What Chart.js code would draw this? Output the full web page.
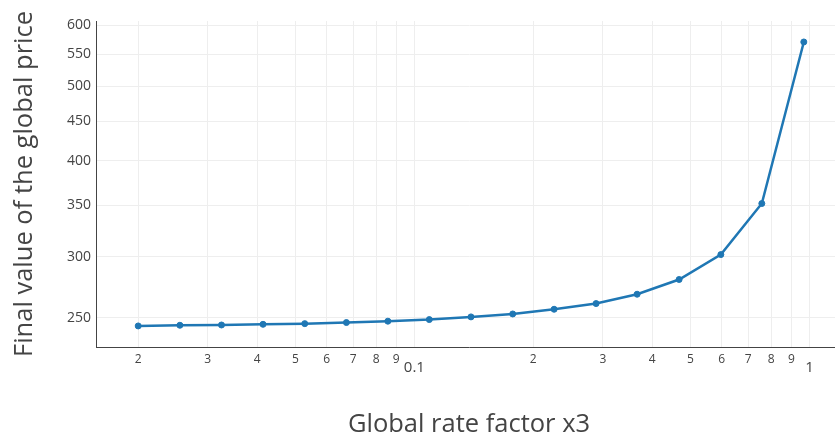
<!DOCTYPE html>
<html>
<head>
<meta charset="utf-8">
<style>
  body { margin: 0; background: #fff; overflow: hidden; }
  #wrap { width: 835px; height: 443px; overflow: hidden; }
</style>
</head>
<body>
<div id="wrap"><canvas id="priceChart" width="846" height="443"></canvas></div>

<script src="https://cdn.jsdelivr.net/npm/chart.js@4.4.1/dist/chart.umd.min.js"></script>
<script>
    // values (log-log)
    const rateFactor = [0.0200, 0.0255, 0.0325, 0.0414, 0.0528, 0.0673, 0.0857, 0.1091, 0.1391,
                        0.1774, 0.2258, 0.2884, 0.3663, 0.4679, 0.5967, 0.7577, 0.9678];
    const finalPrice = [243.8, 244.3, 244.5, 245.0, 245.5, 246.3, 247.3, 248.5, 250.5,
                        252.7, 256.3, 260.7, 268.1, 280.2, 301.9, 351.8, 570.8];

    const xTicks = [0.02, 0.03, 0.04, 0.05, 0.06, 0.07, 0.08, 0.09, 0.1,
                    0.2, 0.3, 0.4, 0.5, 0.6, 0.7, 0.8, 0.9, 1];
    const yTicks = [250, 300, 350, 400, 450, 500, 550, 600];

    const textColor = '#444';
    const gridColor = '#eeeeee';
    const lineColor = '#1f77b4';

    function isDecade(v) {
        return v === 0.1 || v === 1;
    }

    new Chart(document.getElementById('priceChart'), {
        type: 'scatter',
        data: {
            datasets: [{
                label: 'Final value',
                data: rateFactor.map((x, i) => ({x: x, y: finalPrice[i]})),
                showLine: true,
                borderColor: lineColor,
                backgroundColor: lineColor,
                borderWidth: 2.5,
                pointRadius: 3,
                pointBorderWidth: 1,
                pointHoverRadius: 3,
                tension: 0
            }]
        },
        options: {
            responsive: false,
            animation: false,
            layout: {padding: {top: 21, right: 0, left: 0, bottom: 0}},
            plugins: {
                legend: {display: false},
                tooltip: {enabled: false}
            },
            scales: {
                x: {
                    type: 'logarithmic',
                    min: 0.01564,
                    max: 1.209,
                    afterBuildTicks: function(scale) {
                        scale.ticks = xTicks.map(v => ({value: v, major: isDecade(v)}));
                    },
                    afterFit: function(scale) {
                        scale.height = 96;
                        scale.paddingLeft = 0;
                        scale.paddingRight = 0;
                    },
                    ticks: {
                        autoSkip: false,
                        maxRotation: 0,
                        padding: 5,
                        color: textColor,
                        font: function(ctx) {
                            const big = ctx.tick && isDecade(ctx.tick.value);
                            return {family: 'Open Sans', size: big ? 15 : 12, lineHeight: big ? 0.72 : 1.2};
                        },
                        callback: function(value) {
                            if (isDecade(value)) return ['', String(value)];
                            return String(Math.round(value / Math.pow(10, Math.floor(Math.log10(value) + 1e-9))));
                        }
                    },
                    grid: {color: gridColor, lineWidth: 1, drawTicks: false},
                    border: {display: true, color: textColor, width: 1},
                    title: {
                        display: true,
                        text: 'Global rate factor x3',
                        color: textColor,
                        font: {family: 'Open Sans', size: 25.5},
                        padding: {top: 0, bottom: 3}
                    }
                },
                y: {
                    type: 'logarithmic',
                    min: 228.9,
                    max: 607.8,
                    afterBuildTicks: function(scale) {
                        scale.ticks = yTicks.map(v => ({value: v}));
                    },
                    afterFit: function(scale) {
                        scale.width = 96;
                    },
                    ticks: {
                        padding: 5,
                        color: textColor,
                        font: {family: 'Open Sans', size: 14},
                        callback: function(value) { return String(value); }
                    },
                    grid: {color: gridColor, lineWidth: 1, drawTicks: false},
                    border: {display: true, color: textColor, width: 1},
                    title: {
                        display: true,
                        text: 'Final value of the global price',
                        color: textColor,
                        font: {family: 'Open Sans', size: 25.5},
                        padding: {top: 9, bottom: 0}
                    }
                }
            }
        }
    });
</script>
</body>
</html>
